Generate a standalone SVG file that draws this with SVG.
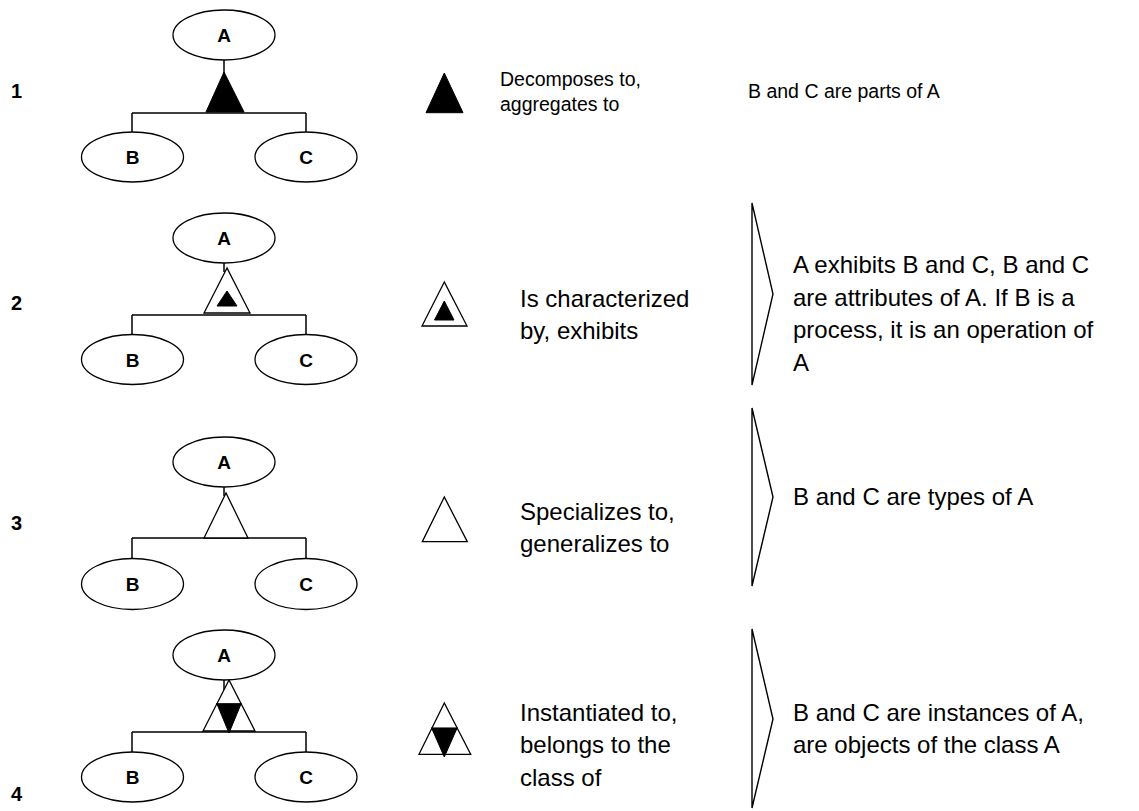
<svg xmlns="http://www.w3.org/2000/svg" width="1139" height="811" viewBox="0 0 1139 811">
  <style>
    .bg { fill: #ffffff; }
    .node { fill: #ffffff; stroke: #000000; stroke-width: 1.3; }
    .lbl { font-family: "Liberation Sans", Arial, sans-serif; font-weight: bold; font-size: 19px; fill: #000000; text-anchor: middle; }
    .num { font-family: "Liberation Sans", Arial, sans-serif; font-weight: bold; font-size: 20px; fill: #000000; }
    .txt1 { font-family: "Liberation Sans", Arial, sans-serif; font-size: 19.5px; fill: #000000; }
    .txt { font-family: "Liberation Sans", Arial, sans-serif; font-size: 24px; fill: #000000; }
    .wire { fill: none; stroke: #000000; stroke-width: 1.5; }
    .solid { fill: #000000; stroke: #000000; stroke-width: 1; stroke-linejoin: miter; }
    .hollow { fill: #ffffff; stroke: #000000; stroke-width: 1.3; stroke-linejoin: miter; }
    .brace { fill: none; stroke: #000000; stroke-width: 1.4; }
  </style>
  <rect class="bg" x="0" y="0" width="1139" height="811"/>

  <!-- row numbers -->
  <text class="num" x="11" y="98">1</text>
  <text class="num" x="11" y="310">2</text>
  <text class="num" x="11" y="530">3</text>
  <text class="num" x="11" y="801">4</text>

  <!-- connectors: trunk lines and branch bars -->
  <g id="connectors">
    <!-- row 1 -->
    <path class="wire" d="M224,60 V74 M132,113 H306 M132,113 V132 M306,113 V132"/>
    <!-- row 2 -->
    <path class="wire" d="M224,263 V272 M132,315 H306 M132,315 V334 M306,315 V334"/>
    <!-- row 3 -->
    <path class="wire" d="M224,487 V496 M132,538 H306 M132,538 V558 M306,538 V558"/>
    <!-- row 4 -->
    <path class="wire" d="M224,680 V690 M132,732 H306 M132,732 V752 M306,732 V752"/>
  </g>

  <!-- relation symbols on the trees -->
  <g id="rel-1">
    <polygon class="solid" points="224,72 206,112 244,112"/>
  </g>
  <g id="rel-2">
    <polygon class="hollow" points="227,268 204,313 250,313"/>
    <polygon class="solid" points="227,291 217,306 237,306"/>
  </g>
  <g id="rel-3">
    <polygon class="hollow" points="226,493 204,538 248,538"/>
  </g>
  <g id="rel-4">
    <polygon class="hollow" points="229,680 203,731 255,731"/>
    <polygon class="solid" points="217,704 241,704 229,733"/>
    <line class="wire" x1="216" y1="704" x2="242" y2="704"/>
  </g>

  <!-- tree 1 nodes -->
  <g id="r1-a"><ellipse class="node" cx="224" cy="35" rx="51" ry="25"/><text class="lbl" x="224" y="42">A</text></g>
  <g id="r1-b"><ellipse class="node" cx="132.5" cy="157" rx="51" ry="25"/><text class="lbl" x="132.5" y="164">B</text></g>
  <g id="r1-c"><ellipse class="node" cx="306" cy="157" rx="51" ry="25"/><text class="lbl" x="306" y="164">C</text></g>

  <!-- tree 2 nodes -->
  <g id="r2-a"><ellipse class="node" cx="224" cy="238" rx="51" ry="25"/><text class="lbl" x="224" y="245">A</text></g>
  <g id="r2-b"><ellipse class="node" cx="132.5" cy="359.5" rx="51" ry="25"/><text class="lbl" x="132.5" y="366.5">B</text></g>
  <g id="r2-c"><ellipse class="node" cx="306" cy="359.5" rx="51" ry="25"/><text class="lbl" x="306" y="366.5">C</text></g>

  <!-- tree 3 nodes -->
  <g id="r3-a"><ellipse class="node" cx="224" cy="462" rx="51" ry="25"/><text class="lbl" x="224" y="469">A</text></g>
  <g id="r3-b"><ellipse class="node" cx="132.5" cy="584" rx="51" ry="25.5"/><text class="lbl" x="132.5" y="591">B</text></g>
  <g id="r3-c"><ellipse class="node" cx="306" cy="584" rx="51" ry="25.5"/><text class="lbl" x="306" y="591">C</text></g>

  <!-- tree 4 nodes -->
  <g id="r4-a"><ellipse class="node" cx="224" cy="655" rx="51" ry="25"/><text class="lbl" x="224" y="662">A</text></g>
  <g id="r4-b"><ellipse class="node" cx="132.5" cy="777" rx="51" ry="25"/><text class="lbl" x="132.5" y="784">B</text></g>
  <g id="r4-c"><ellipse class="node" cx="306" cy="777" rx="51" ry="25"/><text class="lbl" x="306" y="784">C</text></g>

  <!-- legend symbols -->
  <g id="key-1"><polygon class="solid" points="444.3,73 426,112.7 463,112.7"/></g>
  <g id="key-2">
    <polygon class="hollow" points="444.3,282 422,326 467,326"/>
    <polygon class="solid" points="444.3,301 434.5,320 454,320"/>
  </g>
  <g id="key-3"><polygon class="hollow" points="444.3,497 422.3,541.7 467.3,541.7"/></g>
  <g id="key-4">
    <polygon class="hollow" points="444.3,703 419,754.3 470.7,754.3"/>
    <polygon class="solid" points="431.7,728.3 457,728.3 444.3,757"/>
    <line class="wire" x1="431" y1="728.3" x2="458" y2="728.3"/>
  </g>

  <!-- relation names -->
  <text class="txt1" x="500" y="86">Decomposes to,</text>
  <text class="txt1" x="500" y="111">aggregates to</text>

  <text class="txt" x="520" y="307">Is characterized</text>
  <text class="txt" x="520" y="339">by, exhibits</text>

  <text class="txt" x="520" y="520">Specializes to,</text>
  <text class="txt" x="520" y="552">generalizes to</text>

  <text class="txt" x="520" y="721">Instantiated to,</text>
  <text class="txt" x="520" y="753">belongs to the</text>
  <text class="txt" x="520" y="786">class of</text>

  <!-- brackets -->
  <path class="brace" d="M752,203 L773,294 L752,385 Z"/>
  <path class="brace" d="M752,408 L773,497 L752,586 Z"/>
  <path class="brace" d="M752,629 L773,719 L752,808 Z"/>

  <!-- meanings -->
  <text class="txt1" x="748" y="98">B and C are parts of A</text>

  <text class="txt" x="793" y="273">A exhibits B and C, B and C</text>
  <text class="txt" x="793" y="306">are attributes of A. If B is a</text>
  <text class="txt" x="793" y="338">process, it is an operation of</text>
  <text class="txt" x="793" y="371">A</text>

  <text class="txt" x="793" y="505">B and C are types of A</text>

  <text class="txt" x="793" y="721">B and C are instances of A,</text>
  <text class="txt" x="793" y="753">are objects of the class A</text>
</svg>
